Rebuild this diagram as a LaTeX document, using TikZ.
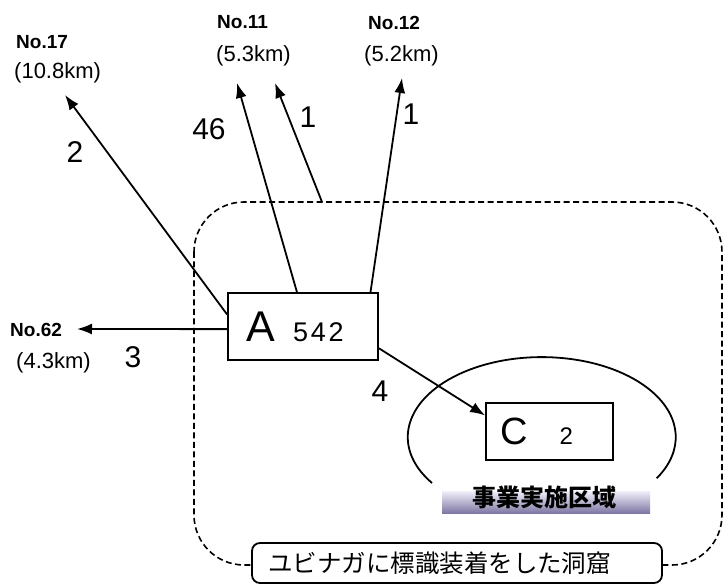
\documentclass[tikz,border=0pt]{standalone}
\usepackage{fontspec}
\setmainfont{Liberation Sans}
\newfontfamily\jpfont{Noto Sans CJK JP}
\usetikzlibrary{arrows.meta}

\newcommand{\fsz}[1]{\fontsize{#1}{#1}\selectfont}

\begin{document}
\begin{tikzpicture}[x=1pt,y=-1pt,
    box/.style={draw,line width=1.8pt,rectangle,inner sep=0pt},
    link/.style={line width=1.8pt,-{Latex[length=15pt,width=11pt]}},
    num/.style={font=\fsz{30}},
    dest/.style={anchor=west,inner sep=0pt,font=\fsz{19}\bfseries},
    dist/.style={anchor=west,inner sep=0pt,font=\fsz{22}}]

      \fill[white] (0,0) rectangle (724,585);
      \useasboundingbox (0,0) rectangle (724,585);

      % area with the marked caves
      \draw[line width=1.6pt,dash pattern=on 6pt off 3.5pt,rounded corners=50pt]
        (194,202) rectangle (722,565);

      % project area
      \draw[line width=1.8pt] (432,483) arc[start angle=145,end angle=391,x radius=134,y radius=80];
      \shade[top color={rgb,255:red,236;green,234;blue,246},bottom color={rgb,255:red,122;green,114;blue,160}]
        (442,492) rectangle (650,514);
      \node[font=\jpfont\bfseries\fsz{24}] (zone) at (544,497.5) {事業実施区域};

      \node[box,minimum width=150pt,minimum height=67pt] (A) at (303,326.5)
        {\fsz{43}A\hspace{18pt}{\fsz{27}\addfontfeature{LetterSpace=10}542}\hspace*{16pt}};
      \node[box,minimum width=127pt,minimum height=57pt] (C) at (549.5,431.5)
        {\fsz{38}C\hspace{32pt}{\fsz{24}2}\hspace*{26pt}};

      \node[draw,line width=1.8pt,rounded corners=8pt,fill=white,minimum height=40pt,
            text width=378pt,inner xsep=16pt,align=left,font=\jpfont\fsz{24.5}] (site) at (457,563)
        {ユビナガに標識装着をした洞窟};

      % destinations
      \node[dest] (17)  at (16,42.5)  {No.17};
      \node[dist] (17d) at (14,72.5)  {(10.8km)};
      \node[dest] (11)  at (217,22.5) {No.11};
      \node[dist] (11d) at (216,56)   {(5.3km)};
      \node[dest] (12)  at (368,22.5) {No.12};
      \node[dist] (12d) at (364,56)   {(5.2km)};
      \node[dest] (62)  at (10,330)   {No.62};
      \node[dist] (62d) at (16,363)   {(4.3km)};

      \coordinate (t17)  at (65,95);
      \coordinate (t11a) at (237,83);
      \coordinate (t11b) at (275,83);
      \coordinate (t12)  at (402,78);
      \coordinate (t62)  at (77,329);
      \coordinate (b11)  at (322,202);

      \draw[link] (A.171) -- (t17);
      \draw[link] (A.100) -- (t11a);
      \draw[link] (b11)   -- (t11b);
      \draw[link] (A.27)  -- (t12);
      \draw[link] (A.182) -- (t62);
      \draw[link] (A.-16) -- (C.166);

      \begin{scope}[every node/.style=num]
        \node (n17)  at (75,152)  {2};
        \node (n11a) at (209,129) {46};
        \node (n11b) at (308,117) {1};
        \node (n12)  at (411,114) {1};
        \node (n62)  at (133,357) {3};
        \node (nC)   at (380,391) {4};
      \end{scope}

    \end{tikzpicture}
\end{document}
